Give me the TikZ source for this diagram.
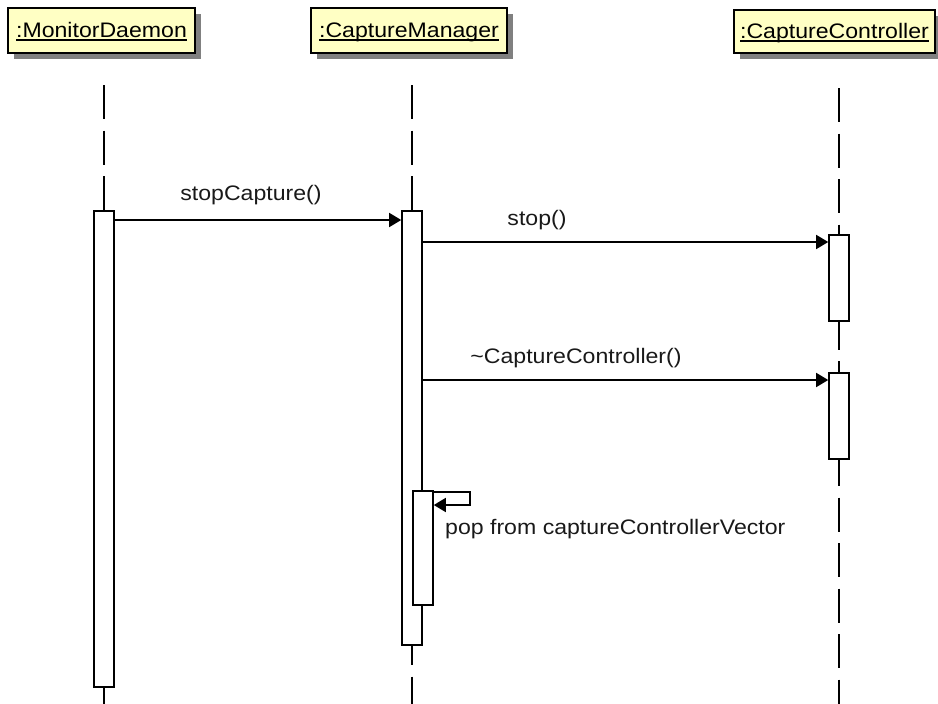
\documentclass[tikz,border=0pt]{standalone}
\usepackage{fontspec}
\setmainfont{Liberation Sans}[FakeStretch=1.1]
\usetikzlibrary{arrows.meta,shadows}

% object name with an underline that runs through descenders
\newcommand\objname[1]{\setbox0\hbox{#1}\rlap{\rule[-3pt]{\wd0}{1.6pt}}\box0}

\definecolor{headfill}{RGB}{255,255,196}
\definecolor{headshadow}{RGB}{128,128,128}

\tikzset{
  objhead/.style={draw=black, line width=1.6pt, fill=headfill, inner sep=0pt,
    text height=15pt, text depth=1pt,
    drop shadow={shadow xshift=6pt, shadow yshift=-6pt, fill=headshadow, opacity=1}},
  life/.style={draw=black, line width=1.6pt, dash pattern=on 34pt off 11.5pt},
  act/.style={draw=black, fill=white, line width=1.6pt, minimum width=20pt, inner sep=0pt, anchor=north},
  msg/.style={draw=black, line width=1.6pt, -{Triangle[length=12pt,width=14pt]}},
  lbl/.style={inner sep=0pt, anchor=base, text=black!90}
}

\begin{document}
\begin{tikzpicture}[x=1pt,y=-1pt,font=\fontsize{21}{25}\selectfont]
\useasboundingbox (0,0) rectangle (938,704);

% object headers
\node[objhead, minimum width=187pt, minimum height=45pt] (hdM) at (101.5,30.5) {\objname{:MonitorDaemon}};
\node[objhead, minimum width=196pt, minimum height=45pt] (hdCM) at (409,30.5) {\objname{:CaptureManager}};
\node[objhead, minimum width=201pt, minimum height=43pt] (hdC) at (834.5,31.5) {\objname{:CaptureController}};

% lifelines
\coordinate (lM0) at (104,85);   \coordinate (lM1) at (104,704);
\coordinate (lCM0) at (412,85);  \coordinate (lCM1) at (412,704);
\coordinate (lC0) at (839,88);   \coordinate (lC1) at (839,704);
\draw[life] (lM0) -- (lM1);
\draw[life] (lCM0) -- (lCM1);
\draw[life] (lC0) -- (lC1);

% activation bars
\node[act, minimum height=476pt] (actM) at (104,210) {};
\node[act, minimum height=434pt] (actCM) at (412,210) {};
\node[act, minimum height=114pt] (actN) at (423,490) {};
\node[act, minimum height=86pt] (actC1) at (839,234) {};
\node[act, minimum height=86pt] (actC2) at (839,372) {};

% stopCapture()
\coordinate (m1) at ([yshift=-10pt]actCM.north west);
\draw[msg] (actM.east |- m1) -- (m1);
\node[lbl] (t1) at (251,200) {stopCapture()};

% stop()
\coordinate (m2) at ([yshift=-8pt]actC1.north west);
\draw[msg] (actCM.east |- m2) -- (m2);
\node[lbl] (t2) at (537,225) {stop()};

% ~CaptureController()
\coordinate (m3) at ([yshift=-8pt]actC2.north west);
\draw[msg] (actCM.east |- m3) -- (m3);
\node[lbl] (t3) at (576,363) {\char`\~CaptureController()};

% self call on the nested activation
\coordinate (s0) at ([yshift=-2pt]actN.north east);
\coordinate (s1) at ([xshift=36pt,yshift=-2pt]actN.north east);
\coordinate (s2) at ([xshift=36pt,yshift=-15pt]actN.north east);
\coordinate (s3) at ([yshift=-15pt]actN.north east);
\draw[msg] (s0) -- (s1) -- (s2) -- (s3);
\node[lbl, anchor=base west] (t4) at (445,534) {pop from captureControllerVector};
\end{tikzpicture}
\end{document}
